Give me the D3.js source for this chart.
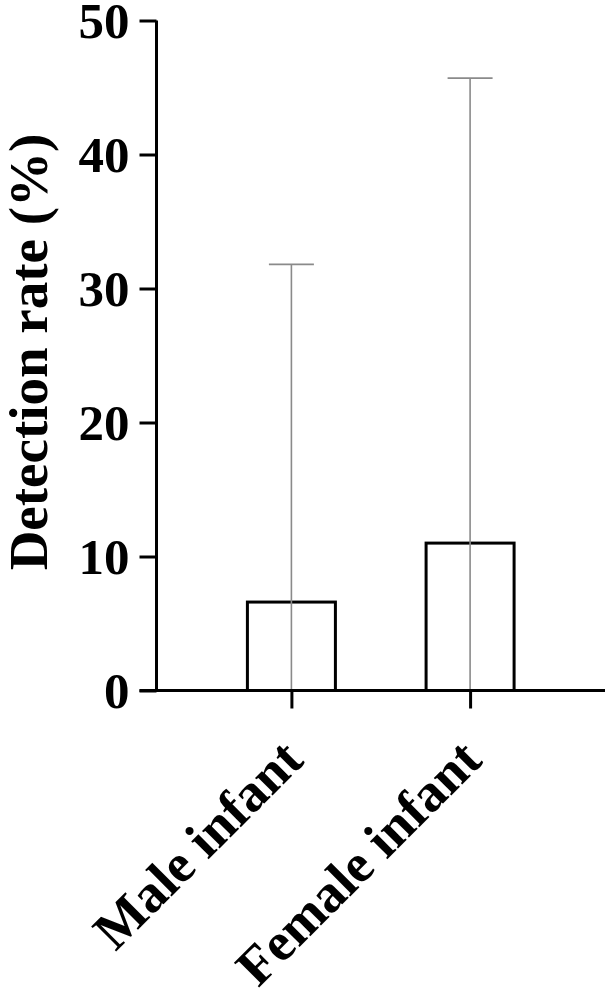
<!DOCTYPE html>
<html>
<head>
<meta charset="utf-8">
<script src="https://cdn.jsdelivr.net/npm/d3@7"></script>
<style>
  body { margin: 0; background: #fff; }
  svg text { font-family: "Times New Roman", Times, "Liberation Serif", Tinos, serif; font-weight: bold; fill: #000; }
</style>
</head>
<body>
<svg id="chart"></svg>
<script>
// data
var categories = ["Male infant", "Female infant"];
var means = [6.6, 11.0];
var upperCI = [31.8, 45.7];
var yTicks = [0, 10, 20, 30, 40, 50];

var width = 611, height = 997;
var svg = d3.select("#chart").attr("width", width).attr("height", height);

var axisX = 156.5, axisY = 690.5, right = 605;

// scales
var x = d3.scalePoint().domain(categories).range([axisX, right]).padding(0.755);
var y = d3.scaleLinear().domain([0, 50]).range([axisY, 20.5]);
var barWidth = 88, capWidth = 45;

// y axis
var yAxis = svg.append("g")
    .attr("transform", "translate(" + axisX + ",0)")
    .call(d3.axisLeft(y).tickValues(yTicks).tickSize(17).tickSizeOuter(0).tickPadding(10));
yAxis.attr("font-family", null);
yAxis.select(".domain").attr("stroke", "#000").attr("stroke-width", 3)
    .attr("d", "M0," + y(50) + "V" + (axisY + 1.5));
yAxis.selectAll(".tick line").attr("stroke", "#000").attr("stroke-width", 3);
yAxis.selectAll(".tick text")
    .style("font-size", "51px")
    .attr("dy", "0.34em");

// bars
svg.append("g").selectAll("rect")
    .data(categories)
    .join("rect")
    .attr("x", function(d) { return x(d) - barWidth / 2; })
    .attr("y", function(d, i) { return y(means[i]); })
    .attr("width", barWidth)
    .attr("height", function(d, i) { return y(0) - y(means[i]); })
    .attr("fill", "#fff")
    .attr("stroke", "#000")
    .attr("stroke-width", 3);

// error bars (grey), running down through the bar
var err = svg.append("g").attr("stroke", "#8a8a8a").attr("stroke-width", 1.6);
err.selectAll("line.stem")
    .data(categories)
    .join("line")
    .attr("class", "stem")
    .attr("x1", function(d) { return x(d); })
    .attr("x2", function(d) { return x(d); })
    .attr("y1", function(d, i) { return y(upperCI[i]); })
    .attr("y2", y(0));
err.selectAll("line.cap")
    .data(categories)
    .join("line")
    .attr("class", "cap")
    .attr("x1", function(d) { return x(d) - capWidth / 2; })
    .attr("x2", function(d) { return x(d) + capWidth / 2; })
    .attr("y1", function(d, i) { return y(upperCI[i]); })
    .attr("y2", function(d, i) { return y(upperCI[i]); });

// x axis
var xAxis = svg.append("g")
    .attr("transform", "translate(0," + axisY + ")")
    .call(d3.axisBottom(x).tickSize(18).tickSizeOuter(0).tickFormat(""));
xAxis.select(".domain").attr("stroke", "#000").attr("stroke-width", 3)
    .attr("d", "M" + (axisX - 17) + ",0H" + right);
xAxis.selectAll(".tick line").attr("stroke", "#000").attr("stroke-width", 3);

svg.append("g").selectAll("text")
    .data(categories)
    .join("text")
    .attr("text-anchor", "end")
    .style("font-size", "54px")
    .attr("transform", function(d) { return "translate(" + (x(d) + 14) + "," + (axisY + 72) + ") rotate(-45)"; })
    .text(function(d) { return d; });

// y title
svg.append("text")
    .attr("text-anchor", "middle")
    .style("font-size", "55px")
    .attr("transform", "translate(47,352) rotate(-90)")
    .text("Detection rate (%)");
</script>
</body>
</html>
